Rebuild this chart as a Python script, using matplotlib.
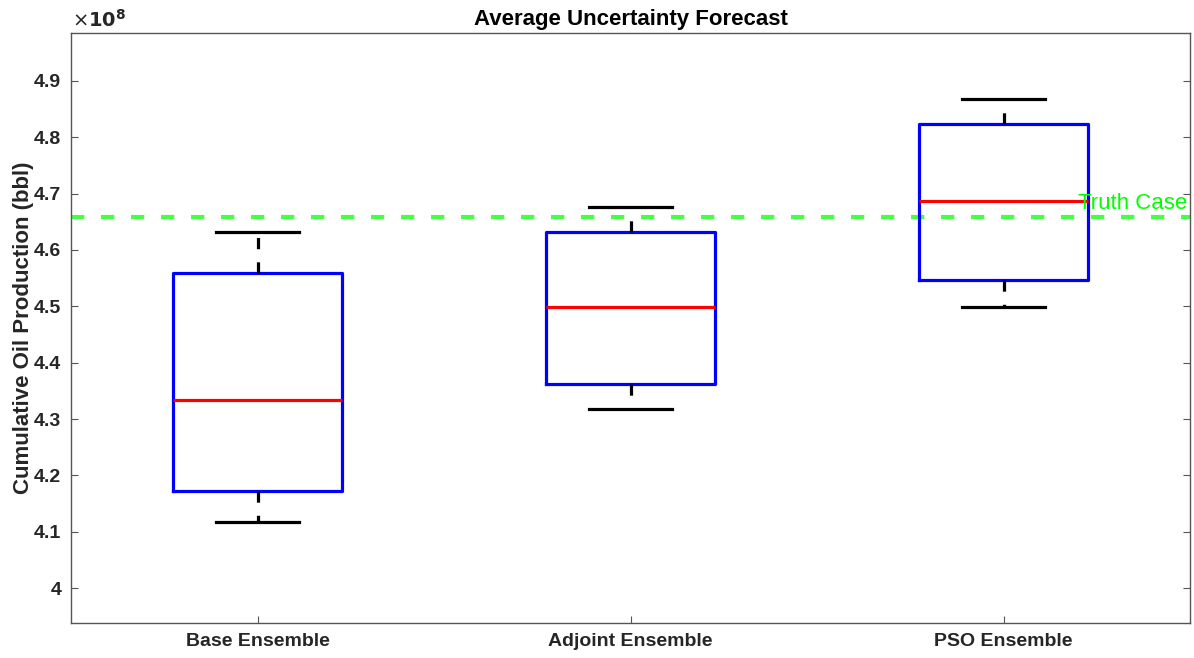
import matplotlib
matplotlib.use("Agg")
import matplotlib.pyplot as plt

# Forecast statistics per ensemble (units of 1e8 bbl)
categories = ["Base Ensemble", "Adjoint Ensemble", "PSO Ensemble"]
whisker_low = [4.118, 4.317, 4.499]
quartile_1 = [4.173, 4.363, 4.546]
medians = [4.334, 4.499, 4.687]
quartile_3 = [4.559, 4.631, 4.823]
whisker_high = [4.632, 4.676, 4.868]
truth_value = 4.659
y_ticks = [4.0, 4.1, 4.2, 4.3, 4.4, 4.5, 4.6, 4.7, 4.8, 4.9]
y_tick_labels = ["4", "4.1", "4.2", "4.3", "4.4", "4.5", "4.6", "4.7", "4.8", "4.9"]

plt.rcParams["font.family"] = ["Liberation Sans", "DejaVu Sans"]

fig = plt.figure(figsize=(11.94, 6.58), dpi=100)
ax = fig.add_axes([71 / 1194, 1 - 623 / 658, (1190 - 71) / 1194, (623 - 33) / 658])

stats = []
for name, lo, q1, med, q3, hi in zip(categories, whisker_low, quartile_1, medians, quartile_3, whisker_high):
    stats.append(dict(label=name, whislo=lo, q1=q1, med=med, q3=q3, whishi=hi, fliers=[]))

ax.bxp(
    stats,
    positions=[1, 2, 3],
    widths=0.455,
    showfliers=False,
    boxprops=dict(color="#0000ff", linewidth=2.3),
    medianprops=dict(color="#ff0000", linewidth=2.3),
    whiskerprops=dict(color="black", linewidth=2.3, linestyle=(0, (3.5, 4.1))),
    capprops=dict(color="black", linewidth=2.3),
    capwidths=0.225,
)

ax.axhline(truth_value, color="#44ff44", linewidth=3.0, linestyle=(0, (3.2, 4.0)), zorder=1)
ax.text(3.2, truth_value + 0.005, "Truth Case", color="#00ff00", fontsize=16,
        ha="left", va="bottom", clip_on=False)

ax.set_xlim(0.5, 3.5)
ax.set_ylim(3.938, 4.985)
ax.set_yticks(y_ticks)
ax.set_yticklabels(y_tick_labels)
ax.set_xticks([1, 2, 3])
ax.set_xticklabels(categories)

ax.tick_params(direction="in", length=5, width=0.8, color="#555555", labelsize=14,
               labelcolor="#262626")
ax.tick_params(axis="y", right=True, pad=7)
ax.tick_params(axis="x", top=False, pad=7)
for lbl in ax.get_xticklabels() + ax.get_yticklabels():
    lbl.set_fontweight("bold")
for spine in ax.spines.values():
    spine.set_color("#555555")
    spine.set_linewidth(1.0)

ax.set_ylabel("Cumulative Oil Production (bbl)", fontsize=16, fontweight="bold",
              color="#262626", labelpad=0)
ax.set_title("Average Uncertainty Forecast", fontsize=16, fontweight="bold", pad=6)

fig.text(72 / 1194, 1 - 20 / 658, r"$\times\mathbf{10^{8}}$", fontsize=14, color="#262626",
         ha="left", va="center")

fig.savefig("out.png", dpi=100)
